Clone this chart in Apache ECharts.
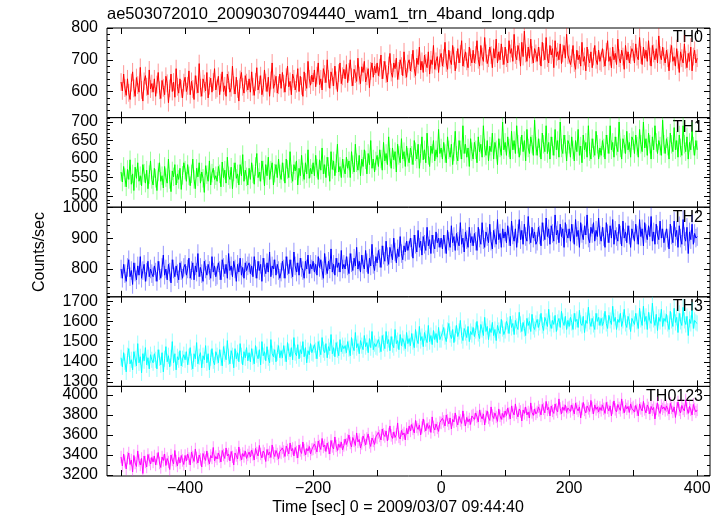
<!DOCTYPE html>
<html>
<head>
<meta charset="utf-8">
<script src="https://cdn.jsdelivr.net/npm/echarts@6/dist/echarts.min.js"></script>
<style>html,body{margin:0;padding:0;background:#fff}#c{width:724px;height:516px}</style>
</head>
<body>
<div id="c"></div>
<script>
// ---- data ----
const titleText = 'ae503072010_20090307094440_wam1_trn_4band_long.qdp';
const xTitle = 'Time [sec] 0 = 2009/03/07 09:44:40';
const yTitle = 'Counts/sec';
const panelNames = ['TH0', 'TH1', 'TH2', 'TH3', 'TH0123'];
const tStart = -500, tStep = 2;   // first bin time and bin width (s)
const xRange = [-522, 420];
const xTicks = [-500, -400, -300, -200, -100, 0, 100, 200, 300, 400];
const xLabels = [-400, -200, 0, 200, 400];

const th0 = [
630,602,655,611,588,640,596,575,628,662,610,585,644,620,598,676,605,570,632,650,615,590,668,608,625,
598,640,585,622,660,604,578,635,612,590,648,626,565,610,655,600,630,582,672,615,595,640,608,580,628,
645,600,618,665,590,632,608,575,650,622,596,688,612,585,640,625,602,660,580,618,642,598,630,672,605,
610,648,590,628,662,600,618,585,655,635,598,612,680,620,592,645,608,570,638,660,615,595,650,628,605,
640,598,662,615,588,630,675,605,622,650,590,612,668,628,600,645,585,635,690,610,625,648,595,620,655,
610,660,625,598,645,680,615,632,590,655,640,605,625,672,600,648,618,585,662,630,610,695,640,620,652,
630,668,615,650,690,622,640,605,672,655,628,700,640,610,662,645,618,680,635,600,658,690,625,648,670,
640,685,628,662,700,645,618,670,655,632,705,650,625,678,660,695,630,648,672,612,665,690,645,680,658,
690,650,675,715,640,668,695,655,630,682,720,660,645,690,672,705,638,665,700,680,650,725,670,645,688,
700,665,690,730,672,650,705,685,740,668,695,660,715,690,675,725,655,700,685,745,670,695,710,660,705,
720,680,705,755,690,670,730,700,685,745,712,665,700,735,690,718,760,680,705,725,695,675,740,708,690,
730,690,715,760,700,680,745,710,695,770,720,688,705,740,715,675,735,705,765,690,725,700,750,712,685,
740,705,690,760,720,735,695,780,715,700,745,725,680,755,710,790,720,695,740,705,765,715,690,735,720,
695,740,712,680,755,725,700,770,705,690,745,715,735,675,760,710,725,700,750,688,720,745,705,780,715,
720,685,705,745,690,670,730,700,715,680,755,695,710,665,740,705,690,725,675,710,745,700,685,730,695,
690,735,705,680,725,760,695,710,675,740,700,720,685,765,705,690,730,710,670,745,700,725,690,715,735,
725,690,750,710,700,770,715,685,740,705,730,695,760,710,680,745,720,700,735,690,775,715,700,740,710,
690,730,705,665,720,745,695,710,680,735,700,660,725,705,690,750,700,675,720,695,740,665,710,730,690,
705];
const th1 = [
565,538,580,550,525,572,545,598,532,560,515,578,548,590,540,555,528,585,562,535,570,520,558,595,545,
530,575,548,515,565,590,540,555,522,580,550,535,600,545,512,568,552,585,530,560,545,575,518,556,590,
570,540,585,555,528,560,600,545,520,575,552,590,535,565,548,510,582,558,540,595,530,562,575,545,555,
540,580,560,525,592,550,570,535,605,555,545,578,520,565,590,548,560,530,585,555,612,540,570,552,530,
575,545,590,560,532,580,615,550,565,540,595,570,528,585,555,605,545,570,590,530,562,585,550,600,560,
545,590,565,535,600,572,550,620,560,540,585,568,595,530,575,555,610,565,545,590,560,625,548,575,560,
590,555,610,575,545,598,570,630,560,585,550,605,580,540,620,572,595,555,588,640,565,580,550,600,575,
560,605,575,595,550,620,585,565,640,590,570,610,555,600,580,625,598,560,615,585,650,575,600,565,595,
610,580,625,600,570,645,595,615,585,660,605,575,630,598,620,565,640,610,590,655,600,620,580,635,605,
590,630,610,585,650,620,600,640,575,615,660,598,625,590,670,610,580,635,615,650,595,625,605,680,615,
630,600,645,615,590,660,625,605,640,585,620,675,610,595,650,625,600,690,615,640,605,630,580,655,620,
600,645,625,590,660,620,640,605,690,630,610,650,595,635,620,670,600,645,625,585,655,630,610,700,625,
645,610,660,630,600,675,625,650,615,690,640,605,635,665,620,650,595,680,630,615,660,640,610,705,635,
610,655,630,600,670,640,620,690,615,645,600,660,635,610,680,625,650,605,700,630,615,665,640,595,650,
640,605,660,625,595,650,620,680,610,635,590,665,625,645,605,690,620,600,655,630,610,675,640,600,630,
610,650,630,600,665,640,615,690,625,645,605,660,635,620,700,630,600,655,640,615,675,625,645,605,660,
650,615,665,635,605,680,640,620,700,630,655,610,670,640,600,660,625,690,645,615,650,635,610,705,640,
615,655,635,600,670,640,620,685,625,650,605,665,630,610,690,640,620,660,600,645,625,675,635,610,650,
625];
const th2 = [
800,770,815,785,760,805,830,775,795,750,820,790,765,810,780,840,770,795,815,760,790,825,775,800,785,
775,810,790,760,825,795,770,805,845,780,800,765,815,790,755,830,800,775,810,785,765,820,795,770,805,
815,780,800,835,770,795,820,765,810,790,850,775,805,785,760,825,800,780,815,795,770,840,790,810,775,
780,820,795,765,830,805,785,815,770,850,795,810,775,825,800,760,815,790,835,780,805,770,820,795,810,
820,785,810,775,840,800,770,825,795,815,760,835,805,785,820,790,855,775,810,800,830,780,815,795,770,
790,825,800,770,840,810,785,830,800,775,855,810,790,820,780,835,805,795,770,825,800,845,785,815,800,
825,790,815,780,840,805,830,795,770,850,810,785,825,800,865,790,815,780,835,805,820,790,860,800,815,
800,840,810,785,850,820,795,835,810,870,800,825,790,845,815,800,860,820,785,835,810,880,815,795,840,
820,860,835,805,875,845,825,890,840,815,870,850,830,900,855,820,865,840,905,850,830,875,855,890,860,
860,900,870,835,910,880,855,925,870,890,845,905,880,860,935,875,895,850,910,880,865,920,885,900,870,
900,865,910,880,850,925,890,870,940,885,905,860,915,890,875,950,880,900,855,920,895,870,935,885,905,
875,915,890,860,935,900,880,950,895,870,920,905,885,945,890,865,925,900,880,960,895,915,870,930,900,
920,885,940,905,875,955,910,890,930,870,915,960,895,925,880,945,905,890,970,910,885,935,900,920,880,
890,935,910,875,950,920,895,965,905,930,880,940,915,890,975,910,925,885,945,905,930,870,950,915,900,
930,890,945,915,880,960,905,925,870,950,915,895,940,910,975,900,885,935,915,950,890,925,905,965,910,
890,935,905,870,950,915,885,940,900,960,880,925,905,890,945,910,875,955,900,920,885,940,910,870,930,
925,890,945,910,880,960,905,930,875,950,915,895,940,905,970,890,920,880,945,910,895,955,900,930,885,
890,930,900,865,945,910,885,955,905,925,870,940,900,880,960,905,890,935,850,920,895,945,880,915,900,
905];
const th3 = [
1420,1375,1445,1400,1350,1430,1465,1390,1410,1360,1450,1415,1380,1490,1395,1425,1345,1440,1405,1470,1385,1420,1365,1435,1410,
1395,1440,1410,1365,1460,1420,1385,1445,1350,1415,1475,1400,1430,1375,1420,1500,1395,1440,1360,1425,1410,1455,1380,1415,1435,
1410,1450,1385,1425,1470,1400,1365,1440,1415,1495,1390,1425,1445,1370,1430,1410,1480,1395,1440,1360,1420,1465,1405,1385,1450,
1430,1395,1460,1420,1380,1475,1440,1410,1505,1425,1390,1455,1430,1370,1465,1415,1445,1400,1490,1430,1385,1450,1420,1470,1405,
1445,1400,1465,1425,1390,1480,1435,1415,1460,1385,1500,1430,1450,1405,1475,1420,1395,1510,1440,1425,1460,1400,1445,1480,1420,
1455,1420,1480,1440,1400,1495,1450,1425,1470,1410,1520,1445,1430,1485,1415,1460,1440,1500,1425,1470,1395,1455,1435,1490,1445,
1440,1485,1455,1415,1500,1465,1435,1520,1460,1445,1490,1420,1475,1455,1535,1440,1470,1425,1495,1460,1430,1510,1450,1480,1465,
1480,1445,1500,1465,1430,1520,1475,1455,1545,1470,1490,1440,1505,1480,1460,1530,1475,1495,1445,1515,1470,1550,1460,1490,1475,
1470,1510,1485,1450,1530,1495,1465,1550,1490,1510,1455,1525,1485,1470,1560,1490,1505,1460,1535,1480,1515,1495,1465,1545,1490,
1515,1480,1540,1500,1470,1560,1510,1490,1575,1505,1525,1475,1545,1515,1495,1580,1500,1530,1485,1555,1510,1540,1495,1570,1510,
1510,1545,1570,1525,1500,1555,1590,1535,1515,1560,1495,1540,1580,1525,1550,1605,1530,1505,1565,1545,1520,1575,1500,1550,1535,
1570,1525,1555,1600,1540,1515,1585,1560,1530,1620,1550,1575,1510,1565,1545,1595,1530,1560,1505,1580,1555,1540,1610,1565,1535,
1555,1600,1580,1540,1625,1570,1590,1535,1605,1575,1560,1645,1585,1550,1595,1565,1530,1615,1580,1600,1550,1635,1575,1560,1590,
1610,1570,1595,1640,1580,1555,1620,1600,1575,1660,1590,1565,1605,1585,1630,1550,1595,1615,1570,1650,1600,1580,1625,1560,1605,
1575,1620,1595,1560,1640,1600,1610,1570,1655,1590,1580,1625,1545,1605,1590,1670,1600,1575,1615,1585,1560,1640,1600,1620,1580,
1615,1580,1600,1650,1590,1565,1630,1605,1585,1675,1600,1620,1560,1610,1595,1640,1575,1605,1660,1590,1570,1625,1600,1550,1615,
1615,1585,1640,1600,1565,1665,1610,1580,1675,1600,1625,1560,1645,1605,1590,1690,1610,1580,1635,1555,1620,1600,1660,1575,1615,
1600,1635,1590,1560,1650,1605,1575,1665,1595,1620,1545,1640,1600,1580,1670,1605,1585,1625,1530,1610,1590,1655,1565,1605,1595,
1590];
const th0123 = [
3380,3290,3410,3335,3260,3370,3420,3305,3350,3230,3395,3320,3285,3440,3345,3300,3365,3215,3390,3330,3280,3405,3350,3310,3375,
3330,3390,3300,3360,3425,3320,3275,3380,3345,3410,3295,3365,3330,3255,3400,3350,3310,3445,3340,3290,3375,3320,3395,3345,3305,
3395,3340,3410,3365,3300,3430,3380,3335,3460,3370,3320,3400,3355,3280,3415,3375,3345,3440,3360,3310,3395,3370,3475,3340,3385,
3360,3420,3385,3330,3445,3400,3365,3470,3390,3410,3340,3435,3380,3300,3420,3395,3360,3480,3400,3350,3415,3385,3440,3365,3400,
3430,3380,3450,3405,3350,3465,3420,3390,3495,3410,3370,3440,3415,3335,3455,3400,3430,3375,3500,3420,3385,3445,3410,3360,3435,
3420,3470,3435,3385,3490,3450,3410,3520,3440,3465,3390,3475,3430,3370,3500,3445,3415,3530,3450,3400,3465,3440,3485,3410,3455,
3460,3510,3475,3430,3540,3490,3455,3565,3480,3500,3435,3520,3470,3410,3545,3485,3460,3580,3490,3445,3510,3475,3530,3450,3495,
3560,3505,3545,3600,3520,3480,3575,3540,3495,3620,3530,3555,3470,3515,3590,3550,3500,3565,3610,3525,3485,3570,3540,3505,3580,
3570,3625,3590,3550,3660,3605,3585,3640,3540,3610,3690,3595,3565,3630,3575,3605,3720,3580,3560,3645,3600,3620,3550,3665,3610,
3690,3640,3705,3660,3620,3745,3680,3655,3700,3600,3675,3760,3690,3640,3715,3665,3695,3625,3780,3680,3650,3710,3670,3635,3725,
3720,3765,3735,3690,3800,3745,3710,3770,3660,3755,3730,3820,3740,3700,3785,3745,3715,3840,3750,3690,3775,3730,3760,3705,3790,
3800,3755,3820,3780,3730,3850,3790,3760,3810,3700,3785,3840,3770,3745,3880,3795,3765,3820,3780,3735,3860,3790,3755,3815,3775,
3840,3795,3870,3815,3760,3890,3830,3800,3910,3820,3780,3860,3835,3740,3850,3815,3880,3800,3830,3770,3920,3825,3795,3860,3810,
3830,3880,3845,3800,3905,3860,3820,3935,3850,3875,3790,3890,3840,3815,3910,3855,3830,3960,3865,3810,3880,3845,3900,3825,3870,
3880,3835,3900,3855,3810,3920,3865,3840,3880,3770,3860,3925,3850,3820,3890,3865,3835,3945,3870,3810,3900,3855,3880,3830,3875,
3845,3900,3860,3815,3925,3870,3840,3890,3790,3870,3940,3855,3830,3905,3870,3845,3960,3875,3820,3895,3860,3885,3825,3910,3865,
3880,3830,3895,3850,3790,3910,3865,3840,3935,3855,3820,3900,3870,3810,3885,3850,3875,3760,3860,3920,3845,3815,3895,3860,3880,
3845,3890,3855,3810,3915,3870,3830,3880,3775,3865,3930,3850,3820,3895,3860,3840,3950,3865,3815,3885,3850,3800,3905,3860,3830,
3850];
const errTH = [28, 25, 30, 40, 62];       // typical 1-sigma error per panel

const yRanges = [[518, 800], [470, 712], [710, 1000], [1278, 1722], [3190, 4085]];
const yMajor = [
  [600, 700, 800],
  [500, 550, 600, 650, 700],
  [800, 900, 1000],
  [1300, 1400, 1500, 1600, 1700],
  [3200, 3400, 3600, 3800, 4000]
];
const yMinorStep = [20, 10, 20, 20, 100];

// ---- styling / layout ----
const seriesData = [th0, th1, th2, th3, th0123];
const colors = ['#ff0000', '#00ff00', '#0000ff', '#00ffff', '#ff00ff'];
const FONT = '"Liberation Sans", Arial, Helvetica, sans-serif';
const gTop = 28, gH = 89.6, gLeft = 107, gRight = 14;

function minorTicks(r, step) {
  const out = [];
  let v = Math.ceil(r[0] / step) * step;
  for (; v <= r[1]; v += step) out.push(v);
  return out;
}
const fmt = v => (v < 0 ? '\u2212' + (-v) : String(v));

const grids = [], xAxes = [], yAxes = [], series = [], graphics = [];
for (let i = 0; i < 5; i++) {
  grids.push({left: gLeft, right: gRight, top: gTop + gH * i, height: gH,
    show: true, borderColor: '#000', borderWidth: 1, backgroundColor: 'transparent'});
  ['bottom', 'top'].forEach(pos => {
    xAxes.push({gridIndex: i, type: 'value', position: pos, min: xRange[0], max: xRange[1],
      axisLine: {show: false, onZero: false}, splitLine: {show: false},
      axisTick: {inside: true, length: 6, customValues: xTicks, lineStyle: {color: '#000', width: 1}},
      axisLabel: {show: i === 4 && pos === 'bottom', customValues: xLabels, margin: 5,
        fontSize: 16, color: '#000', fontFamily: FONT, formatter: fmt}});
  });
  const r = yRanges[i];
  const base = yAxes.length;
  ['left', 'right'].forEach(pos => {
    yAxes.push({gridIndex: i, type: 'value', position: pos, min: r[0], max: r[1],
      axisLine: {show: false, onZero: false}, splitLine: {show: false},
      axisTick: {inside: true, length: 6, customValues: yMajor[i], lineStyle: {color: '#000', width: 1}},
      axisLabel: {show: pos === 'left', customValues: yMajor[i], margin: 9, fontSize: 16,
        color: '#000', fontFamily: FONT, formatter: fmt, hideOverlap: false}});
    yAxes.push({gridIndex: i, type: 'value', position: pos, min: r[0], max: r[1],
      axisLine: {show: false, onZero: false}, splitLine: {show: false},
      axisTick: {inside: true, length: 3, customValues: minorTicks(r, yMinorStep[i]), lineStyle: {color: '#000', width: 1}},
      axisLabel: {show: false}});
  });
  const vals = seriesData[i];
  const pts = vals.map((v, k) => [tStart + k * tStep, v]);
  const errPts = vals.map((v, k) => [tStart + k * tStep, v, errTH[i]]);
  const col = colors[i];
  series.push({type: 'custom', xAxisIndex: 2 * i, yAxisIndex: base, clip: true, silent: true, z: 1,
    data: errPts,
    renderItem: (params, api) => {
      const x = api.value(0), y = api.value(1), e = api.value(2);
      const p1 = api.coord([x, y - e]), p2 = api.coord([x, y + e]);
      return {type: 'line', shape: {x1: p1[0], y1: p1[1], x2: p2[0], y2: p2[1]},
        style: {stroke: col, lineWidth: 1, opacity: 0.42}};
    }});
  series.push({type: 'line', xAxisIndex: 2 * i, yAxisIndex: base, data: pts, clip: true,
    showSymbol: false, symbol: 'none', silent: true, z: 2, animation: false,
    lineStyle: {color: col, width: 1}});
  graphics.push({type: 'text', right: 724 - 703, top: gTop + gH * i + 2,
    style: {text: panelNames[i], fontSize: 16, fill: '#000', fontFamily: FONT}});
}
graphics.push({type: 'text', left: 107, top: 6,
  style: {text: titleText, fontSize: 16.5, fill: '#000', fontFamily: FONT}});
graphics.push({type: 'text', x: 398, y: 508,
  style: {text: xTitle, fontSize: 16, fill: '#000', fontFamily: FONT, align: 'center', verticalAlign: 'middle'}});
graphics.push({type: 'text', x: 40, y: 252, rotation: Math.PI / 2,
  style: {text: yTitle, fontSize: 16, fill: '#000', fontFamily: FONT, align: 'center', verticalAlign: 'middle'}});

const chart = echarts.init(document.getElementById('c'), null, {renderer: 'canvas'});
chart.setOption({
  animation: false,
  backgroundColor: '#fff',
  grid: grids, xAxis: xAxes, yAxis: yAxes, series: series, graphic: graphics
});
</script>
</body>
</html>
